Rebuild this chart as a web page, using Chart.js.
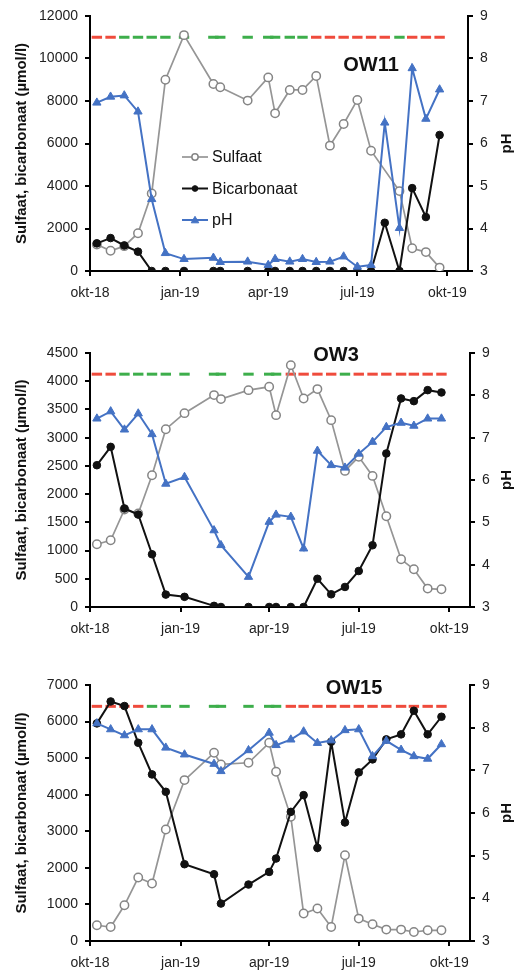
<!DOCTYPE html>
<html><head><meta charset="utf-8">
<script src="https://cdn.jsdelivr.net/npm/chart.js@4/dist/chart.umd.min.js"></script>
<style>
html,body{margin:0;padding:0;background:#fff;width:518px;height:972px;overflow:hidden;}
canvas{position:absolute;left:0;display:block;}
</style></head><body>
<canvas id="c1" width="518" height="310" style="top:0px"></canvas>
<canvas id="c2" width="518" height="320" style="top:320px"></canvas>
<canvas id="c3" width="518" height="317" style="top:655px"></canvas>
<script>
// ---------- data ----------
const sampleDates = ['2018-10-08','2018-10-22','2018-11-05','2018-11-19','2018-12-03','2018-12-17',
  '2019-01-05','2019-02-04','2019-02-11','2019-03-11','2019-04-01','2019-04-08','2019-04-23',
  '2019-05-06','2019-05-20','2019-06-03','2019-06-17','2019-07-01','2019-07-15','2019-07-29',
  '2019-08-13','2019-08-26','2019-09-09','2019-09-23'];
const axisStart = '2018-10-01';
const axisEnd = '2019-10-22';
const xTickDates = ['2018-10-01','2019-01-01','2019-04-01','2019-07-01','2019-10-01'];
const xTickLabels = ['okt-18','jan-19','apr-19','jul-19','okt-19'];
const pHThreshold = 8.5;

// OW11
const ow11Sulfaat = [1250,950,1170,1780,3650,9000,11100,8800,8650,8020,9110,7420,8520,8520,9180,5900,6920,8050,5660,null,3760,1070,890,160];
const ow11Bicarbonaat = [1300,1550,1200,910,0,0,0,0,0,0,0,0,0,0,0,0,0,0,0,2270,0,3900,2540,6400];
const ow11pH = [6.96,7.10,7.13,6.75,4.69,3.42,3.28,3.31,3.21,3.22,3.14,3.28,3.22,3.28,3.21,3.22,3.34,3.10,3.14,6.49,4.01,7.77,6.58,7.27];
const ow11Status = ['r','r','g','g','g','g','g','g','g','g','g','g','g','g','r','r','r','r','r','r','g','r','r','r'];

// OW3
const ow3Sulfaat = [1112,1182,1727,1656,2335,3150,3434,3754,3683,3842,3901,3399,4285,3695,3860,3310,2411,2660,2323,1608,845,668,326,314];
const ow3Bicarbonaat = [2512,2837,1745,1638,934,220,180,20,0,0,0,0,0,0,500,225,355,638,1094,2720,3695,3647,3842,3801];
const ow3pH = [7.45,7.62,7.19,7.57,7.08,5.91,6.07,4.81,4.46,3.71,5.01,5.18,5.13,4.38,6.69,6.35,6.29,6.62,6.90,7.25,7.35,7.28,7.45,7.45];
const ow3Status = ['r','r','g','g','g','g','g','g','g','g','g','g','r','r','r','r','g','r','r','r','r','r','r','r'];

// OW15
const ow15Sulfaat = [430,383,977,1735,1571,3049,4399,5147,4829,4873,5420,4627,3395,750,887,383,2346,613,457,312,312,246,293,293];
const ow15Bicarbonaat = [5950,6550,6425,5420,4555,4080,2100,1826,1024,1544,1889,2255,3531,3988,2546,5448,3241,4610,4966,5513,5650,6296,5650,6132];
const ow15pH = [8.10,7.96,7.82,7.96,7.96,7.53,7.37,7.15,6.98,7.47,7.88,7.59,7.72,7.91,7.64,7.70,7.94,7.96,7.33,7.69,7.48,7.33,7.27,7.61];
const ow15Status = ['r','r','r','r','g','g','g','g','g','g','g','g','r','r','r','r','r','r','r','r','r','r','r','r'];

const seriesNames = ['Sulfaat','Bicarbonaat','pH'];
const leftTitle = 'Sulfaat, bicarbonaat (µmol/l)';
const rightTitle = 'pH';

// ---------- styling ----------
const FONT = "'Liberation Sans', Arial, sans-serif";
const GRAY = '#959595', BLACK = '#111111', BLUE = '#4472c4';
const RED = '#ef4b3c', GREEN = '#3dae4b';
const W = 518;

const day = s => (Date.parse(s) - Date.parse(axisStart)) / 86400000;
const pts = arr => sampleDates.map((d, i) => ({x: day(d), y: arr[i]}));

const decor = {
  id: 'decor',
  afterDraw(chart, args, o) {
    const ctx = chart.ctx, ca = chart.chartArea;
    ctx.save();
    ctx.fillStyle = '#111';
    ctx.font = 'bold 15px ' + FONT;
    ctx.textAlign = 'center'; ctx.textBaseline = 'middle';
    ctx.translate(507, (ca.top + ca.bottom) / 2);
    ctx.rotate(-Math.PI / 2);
    ctx.fillText(rightTitle, 0, 0);
    ctx.restore();
    ctx.save();
    ctx.fillStyle = '#111';
    ctx.font = 'bold 20px ' + FONT;
    ctx.textAlign = 'center'; ctx.textBaseline = 'middle';
    ctx.fillText(o.title, o.tx, o.ty);
    ctx.restore();
    if (o.legend) {
      const ds = chart.data.datasets.filter(d => d.legendOrder !== undefined)
        .sort((a, b) => a.legendOrder - b.legendOrder);
      ctx.save();
      ds.forEach((d, i) => {
        const y = o.ly + i * o.lstep, x0 = o.lx;
        ctx.strokeStyle = d.borderColor; ctx.lineWidth = d.borderWidth;
        ctx.beginPath(); ctx.moveTo(x0, y); ctx.lineTo(x0 + 26, y); ctx.stroke();
        const cx = x0 + 13;
        ctx.lineWidth = d.pointBorderWidth;
        ctx.strokeStyle = d.pointBorderColor; ctx.fillStyle = d.pointBackgroundColor;
        ctx.beginPath();
        if (d.pointStyle === 'triangle') {
          const r = d.pointRadius * 0.9;
          for (let k = 0; k < 3; k++) {
            const a = -Math.PI / 2 + k * 2 * Math.PI / 3;
            const px = cx + Math.cos(a) * r, py = y + Math.sin(a) * r + r * 0.15;
            k ? ctx.lineTo(px, py) : ctx.moveTo(px, py);
          }
          ctx.closePath();
        } else {
          ctx.arc(cx, y, d.pointRadius * 0.75, 0, Math.PI * 2);
        }
        ctx.fill(); ctx.stroke();
        ctx.fillStyle = '#111';
        ctx.font = '16px ' + FONT;
        ctx.textAlign = 'left'; ctx.textBaseline = 'middle';
        ctx.fillText(d.label, x0 + 30, y + 1);
      });
      ctx.restore();
    }
  }
};

function makePanel(id, sulf, bic, ph, status, leftMax, leftStep, area, deco) {
  const canvas = document.getElementById(id);
  const H = canvas.height;
  const tickFont = {family: FONT, size: 14};
  const axisGrid = {drawOnChartArea: false, drawTicks: true, tickLength: 5, color: '#000', lineWidth: 2};
  const axisBorder = {display: true, color: '#000', width: 2};
  new Chart(canvas, {
    type: 'line',
    data: {
      datasets: [
        {label: seriesNames[2], legendOrder: 2, data: pts(ph), yAxisID: 'y2', order: 0,
          borderColor: BLUE, borderWidth: 2, pointStyle: 'triangle', pointRadius: 4.8,
          pointBackgroundColor: BLUE, pointBorderColor: BLUE, pointBorderWidth: 1, spanGaps: true},
        {label: seriesNames[1], legendOrder: 1, data: pts(bic), yAxisID: 'y', order: 1,
          borderColor: BLACK, borderWidth: 2, pointStyle: 'circle', pointRadius: 3.8,
          pointBackgroundColor: BLACK, pointBorderColor: BLACK, pointBorderWidth: 1, spanGaps: true},
        {label: seriesNames[0], legendOrder: 0, data: pts(sulf), yAxisID: 'y', order: 2,
          borderColor: GRAY, borderWidth: 1.7, pointStyle: 'circle', pointRadius: 4.2,
          pointBackgroundColor: '#ffffff', pointBorderColor: '#858585', pointBorderWidth: 1.5, spanGaps: true},
        {label: 'status', data: sampleDates.map(d => ({x: day(d), y: pHThreshold})), yAxisID: 'y2', order: 3,
          showLine: false, pointStyle: 'line', pointRadius: 5.2, pointBorderWidth: 3,
          pointBorderColor: status.map(s => s === 'r' ? RED : GREEN)}
      ]
    },
    options: {
      responsive: false, animation: false, events: [],
      layout: {padding: {top: area.top, left: 0, right: 0, bottom: 0}},
      plugins: {legend: {display: false}, tooltip: {enabled: false}, decor: deco},
      scales: {
        x: {type: 'linear', min: 0, max: day(axisEnd),
          afterBuildTicks: s => { s.ticks = xTickDates.map(d => ({value: day(d)})); },
          ticks: {callback: (v, i) => xTickLabels[i], font: tickFont, color: '#222', padding: 9,
            maxRotation: 0, autoSkip: false},
          grid: axisGrid, border: axisBorder,
          afterFit: s => { s.height = H - area.bottom; }},
        y: {position: 'left', min: 0, max: leftMax,
          ticks: {stepSize: leftStep, font: tickFont, color: '#222', padding: 7, callback: v => String(v)},
          grid: axisGrid, border: axisBorder,
          title: {display: true, text: leftTitle, color: '#111',
            font: {family: FONT, size: 15, weight: 'bold'}, padding: {top: 13, bottom: 0}},
          afterFit: s => { s.width = 90; }},
        y2: {position: 'right', min: 3, max: 9,
          ticks: {stepSize: 1, font: tickFont, color: '#222', padding: 7, callback: v => String(v)},
          grid: axisGrid, border: axisBorder,
          afterFit: s => { s.width = W - area.right; }}
      }
    },
    plugins: [decor]
  });
}

makePanel('c1', ow11Sulfaat, ow11Bicarbonaat, ow11pH, ow11Status, 12000, 2000,
  {top: 16, bottom: 271, right: 468},
  {title: 'OW11', tx: 371, ty: 65, legend: true, lx: 182, ly: 157, lstep: 31.5});
makePanel('c2', ow3Sulfaat, ow3Bicarbonaat, ow3pH, ow3Status, 4500, 500,
  {top: 33, bottom: 287, right: 470},
  {title: 'OW3', tx: 336, ty: 35, legend: false});
makePanel('c3', ow15Sulfaat, ow15Bicarbonaat, ow15pH, ow15Status, 7000, 1000,
  {top: 30, bottom: 286, right: 470},
  {title: 'OW15', tx: 354, ty: 33, legend: false});
</script>
</body></html>
